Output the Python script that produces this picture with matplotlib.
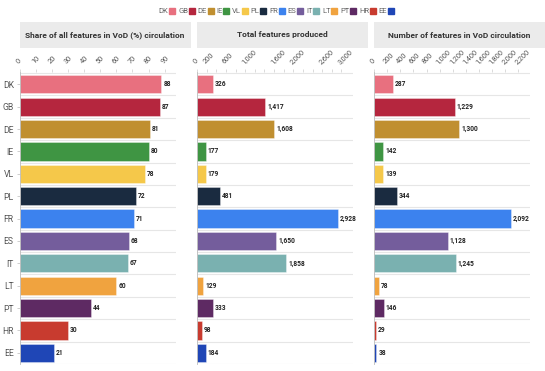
import numpy as np
import matplotlib
matplotlib.use('Agg')
from matplotlib import pyplot as plt
from matplotlib.patches import Rectangle
import matplotlib.lines as mlines

plt.rcParams['font.family'] = ['Roboto', 'DejaVu Sans']

countries = ['DK', 'GB', 'DE', 'IE', 'VL', 'PL', 'FR', 'ES', 'IT', 'LT', 'PT', 'HR', 'EE']
colors = ['#E8707F', '#B5263E', '#C08F30', '#3F9543', '#F5C84A', '#1A2B40', '#3C82EE',
          '#745D9C', '#7AB1B0', '#F0A33F', '#5E2A63', '#C83B2F', '#1F46B6']

share_vod = [88, 87, 81, 80, 78, 72, 71, 68, 67, 60, 44, 30, 21]
total_produced = [326, 1417, 1608, 177, 179, 481, 2928, 1650, 1858, 129, 333, 98, 184]
in_vod = [287, 1229, 1300, 142, 139, 344, 2092, 1128, 1245, 78, 146, 29, 38]

titles = ['Share of all features in VoD (%) circulation',
          'Total features produced',
          'Number of features in VoD circulation']

ticks_1 = list(range(0, 100, 10))
ticks_2 = list(range(0, 3200, 200))
labels_2 = [0, 200, 600, 1000, 1600, 2000, 2600, 3000]
ticks_3 = list(range(0, 2400, 200))

W, H = 545, 371
fig = plt.figure(figsize=(W / 100, H / 100), dpi=100)

# values, ticks, labelled ticks, x max, left edge in px
panels = [
    (share_vod, ticks_1, ticks_1, 97.1, 20),
    (total_produced, ticks_2, labels_2, 3240, 197),
    (in_vod, ticks_3, ticks_3, 2377, 374),
]

ax_w = 156
ax_top = 72
ax_bot = 364
y = np.arange(len(countries))

for i, (vals, ticks, shown, xmax, left) in enumerate(panels):
    ax = fig.add_axes([left / W, 1 - ax_bot / H, ax_w / W, (ax_bot - ax_top) / H])
    ax.barh(y, vals, height=0.82, color=colors, edgecolor='#FFFFFF99', linewidth=0.4)
    ax.set_xlim(0, xmax)
    ax.set_ylim(len(countries) - 0.5, -0.55)

    for yi, v in zip(y, vals):
        ax.text(v + xmax * 0.012, yi, f'{v:,}', va='center', ha='left',
                fontsize=4.8, fontweight='bold', color='#222222')

    # row separators
    ax.set_yticks(np.arange(-0.5, len(countries), 1), minor=True)
    ax.grid(axis='y', which='minor', color='#E6E6E6', linewidth=0.8)
    ax.tick_params(axis='y', which='minor', length=0)

    ax.xaxis.set_ticks_position('top')
    ax.set_xticks(ticks)
    ax.set_xticklabels([f'{t:,}' if t in shown else '' for t in ticks],
                       rotation=45, ha='left', va='bottom', rotation_mode='anchor')
    ax.tick_params(axis='x', length=2.5, width=0.5, color='#CCCCCC', labelsize=5.3,
                   labelcolor='#555555', pad=2)

    if i == 0:
        ax.set_yticks(y)
        ax.set_yticklabels(countries)
        ax.tick_params(axis='y', which='major', length=2.5, width=0.5, color='#BBBBBB',
                       labelsize=6.2, labelcolor='#555555', pad=2)
    else:
        ax.set_yticks([])

    for s in ['top', 'right', 'bottom']:
        ax.spines[s].set_visible(False)
    ax.spines['left'].set_color('#BBBBBB')
    ax.spines['left'].set_linewidth(0.6)

    # header box
    fig.patches.append(Rectangle((left / W, 1 - 48 / H), 171 / W, 26 / H,
                                 transform=fig.transFigure, facecolor='#EBEBEB',
                                 edgecolor='none', zorder=0))
    fig.text((left + 85) / W, 1 - 35 / H, titles[i], ha='center', va='center',
             fontsize=6, fontweight='bold', color='#333333')

handles = [mlines.Line2D([], [], color=c, marker='s', linestyle='None', markersize=4, label=k)
           for k, c in zip(countries, colors)]
fig.legend(handles=handles, loc='center', bbox_to_anchor=(276 / W, 1 - 11 / H), ncol=13,
           frameon=False, markerfirst=False, handletextpad=0.2, columnspacing=0.45,
           handlelength=0.6, fontsize=5.5, labelcolor='#666666')

fig.savefig('out.png', dpi=100, facecolor='white')
